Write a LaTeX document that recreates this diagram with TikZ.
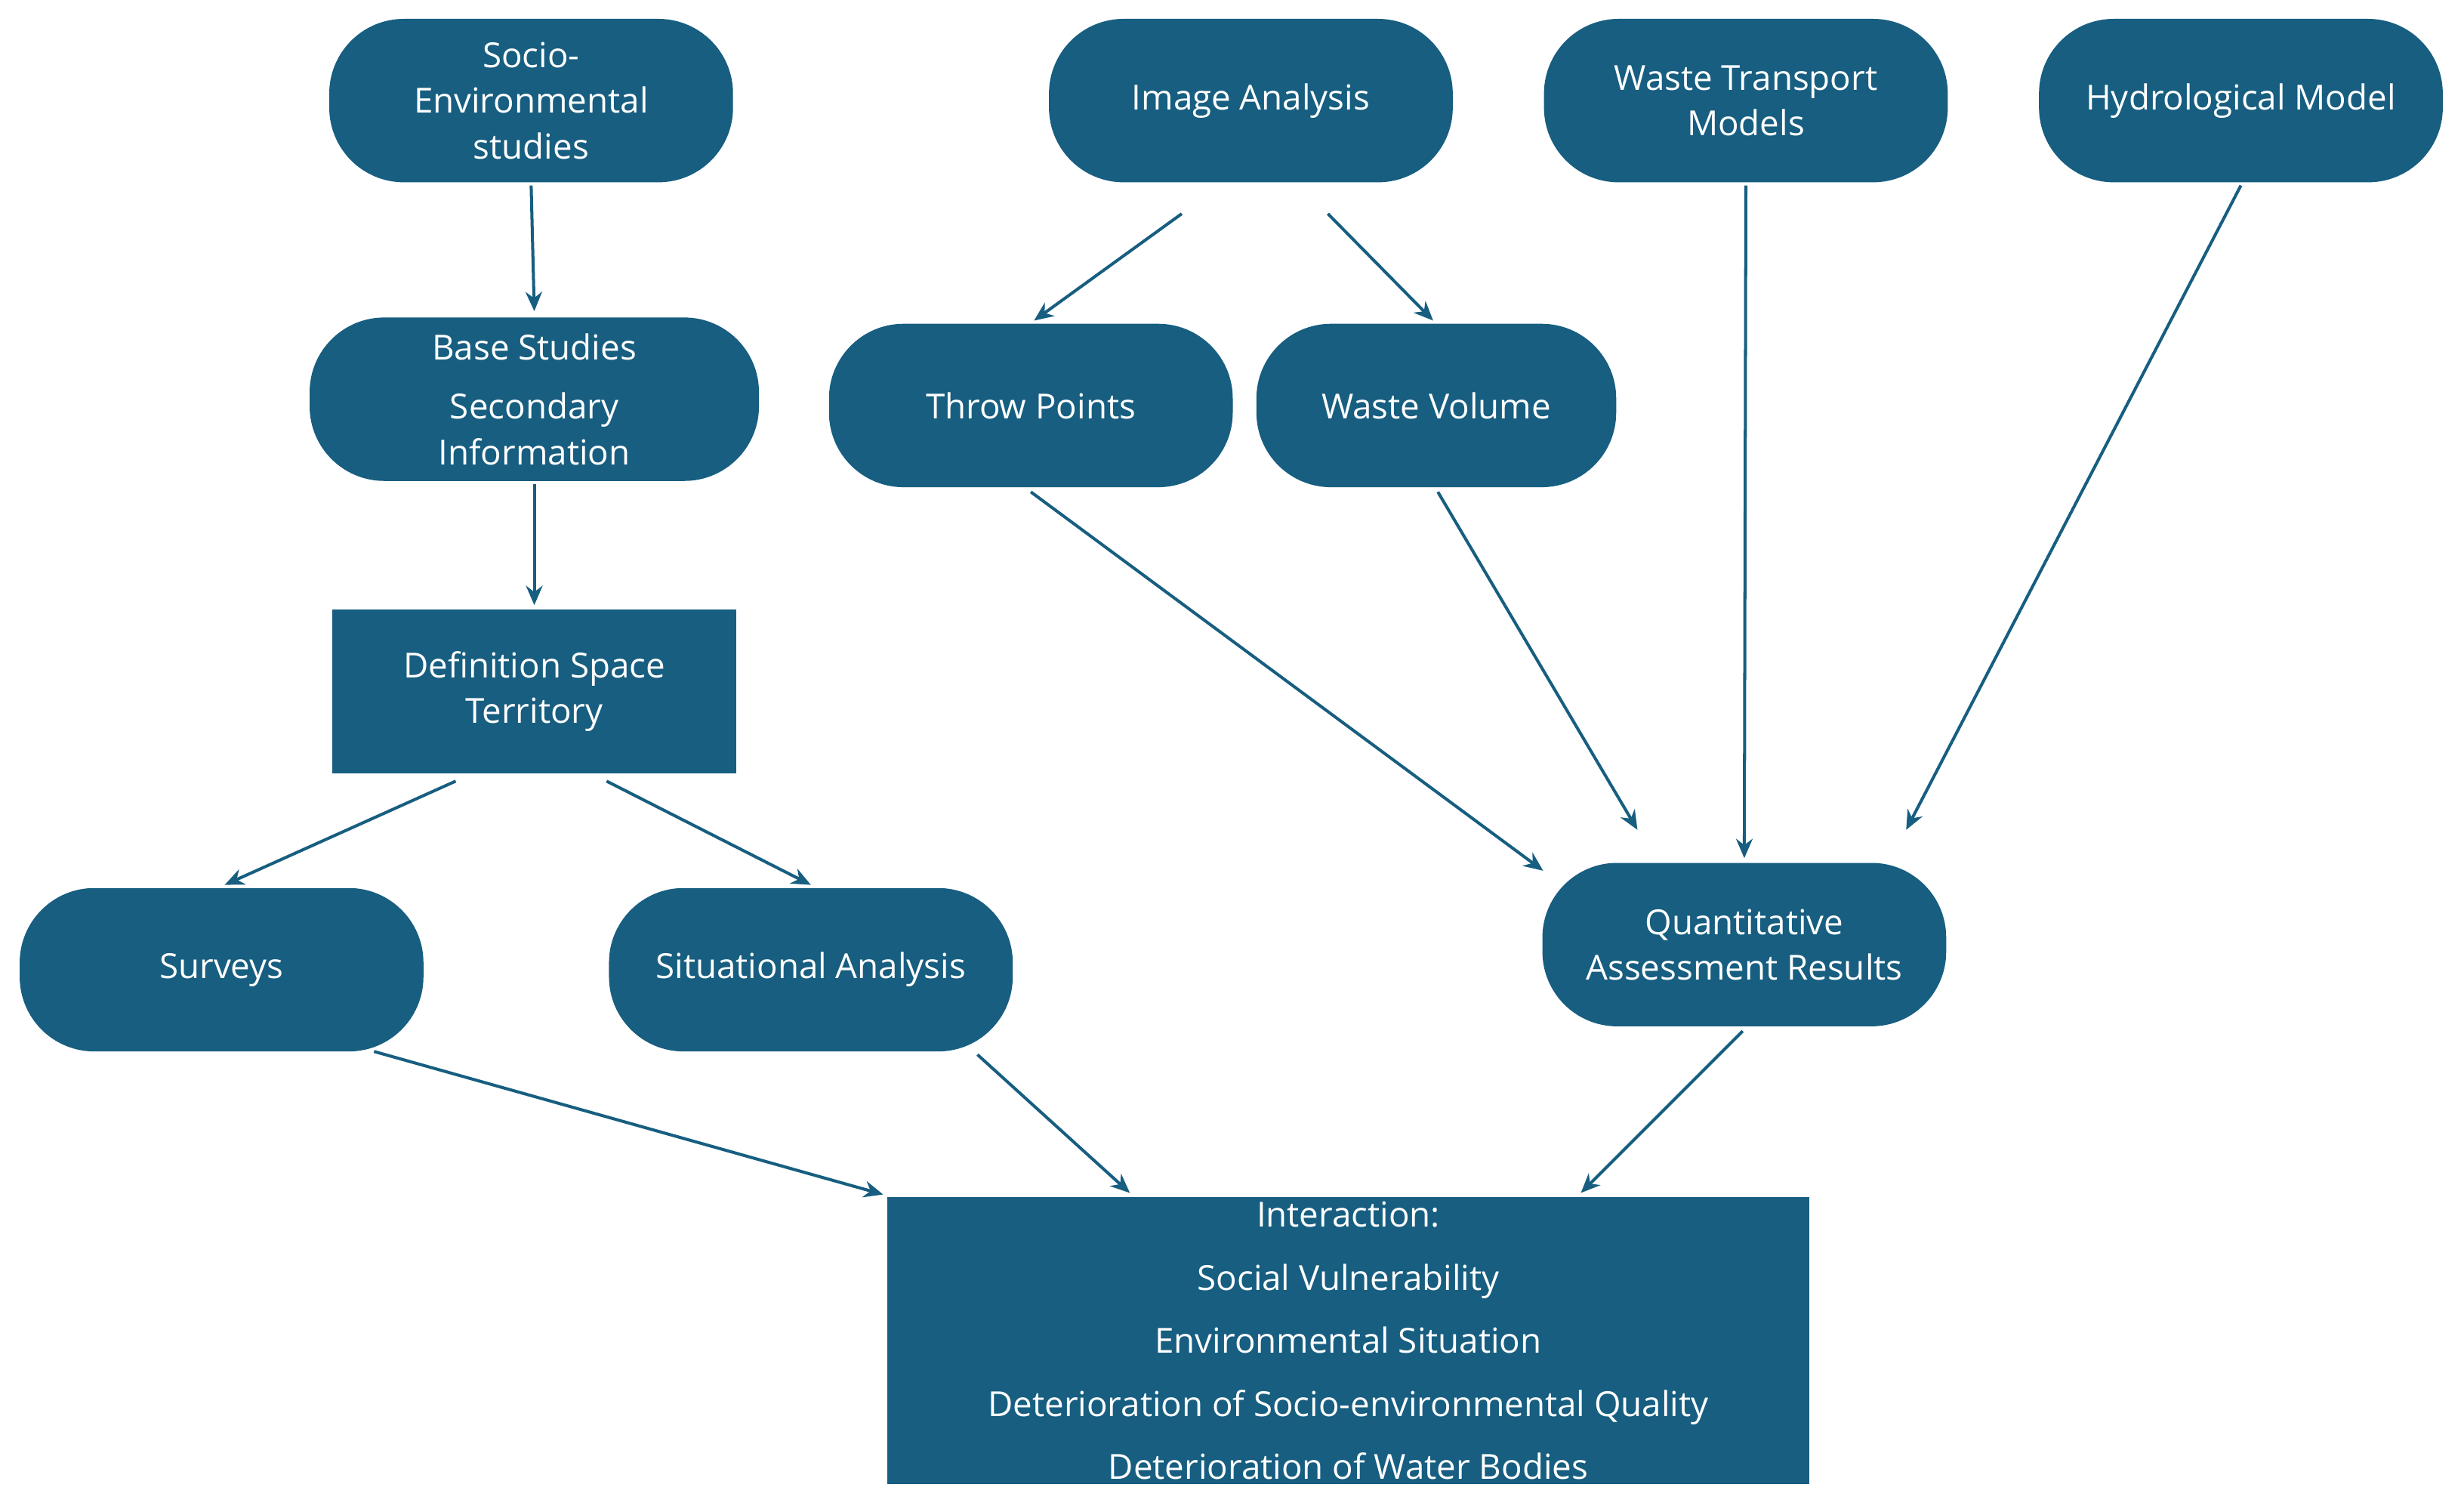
\documentclass[tikz,border=0pt]{standalone}
\usepackage{fontspec}
\setmainfont{Open Sans}
\usetikzlibrary{arrows.meta}
\definecolor{box}{RGB}{23,94,128}
\begin{document}
\begin{tikzpicture}[x=0.02cm,y=-0.02cm,
  base/.style={fill=box,text=white,inner sep=0pt,align=center,font=\fontsize{12.5}{16.5}\selectfont},
  pill/.style={base,rounded corners=0.95cm,minimum width=5.14cm,minimum height=2.08cm},
  rect/.style={base,minimum width=5.14cm,minimum height=2.08cm},
  arr/.style={draw=box,line width=1.1pt,-{Stealth[length=7pt,width=6pt]}}]
\useasboundingbox (0,0) rectangle (1568,960);
\node[pill] (soc) at (338,64) {Socio-\\Environmental\\studies};
\node[pill] (img) at (796,64) {Image Analysis};
\node[pill] (wtm) at (1111,64) {Waste Transport\\Models};
\node[pill] (hyd) at (1426,64) {Hydrological Model};
\node[pill,minimum width=5.72cm] (bas) at (340,254) {Base Studies\\[5pt]Secondary\\Information};
\node[pill] (thr) at (656,258) {Throw Points};
\node[pill,minimum width=4.58cm] (wvo) at (914,258) {Waste Volume};
\node[rect] (def) at (340,440) {Definition Space\\Territory};
\node[pill] (sur) at (141,617) {Surveys};
\node[pill] (sit) at (516,617) {Situational Analysis};
\node[pill] (qua) at (1110,601) {Quantitative\\Assessment Results};
\node[rect,minimum width=11.74cm,minimum height=3.66cm,font=\fontsize{12.5}{22.8}\selectfont] (int) at (858,853) {Interaction:\\Social Vulnerability\\Environmental Situation\\Deterioration of Socio-environmental Quality\\Deterioration of Water Bodies};
\coordinate (a1) at (338,118); \coordinate (b1) at (340,198);
\coordinate (a2) at (340,308); \coordinate (b2) at (340,385);
\coordinate (a3) at (752,136); \coordinate (b3) at (658,204);
\coordinate (a4) at (845,136); \coordinate (b4) at (912,204);
\coordinate (a5) at (290,497); \coordinate (b5) at (143,563);
\coordinate (a6) at (386,497); \coordinate (b6) at (516,563);
\coordinate (a7) at (656,313); \coordinate (b7) at (982,554);
\coordinate (a8) at (915,313); \coordinate (b8) at (1042,528);
\coordinate (a9) at (1111,118); \coordinate (b9) at (1110,546);
\coordinate (a10) at (1426,118); \coordinate (b10) at (1213,528);
\coordinate (a11) at (238,669); \coordinate (b11) at (562,760);
\coordinate (a12) at (622,671); \coordinate (b12) at (719,759);
\coordinate (a13) at (1109,656); \coordinate (b13) at (1006,759);
\foreach \i in {1,...,13} \draw[arr] (a\i) -- (b\i);
\end{tikzpicture}
\end{document}
